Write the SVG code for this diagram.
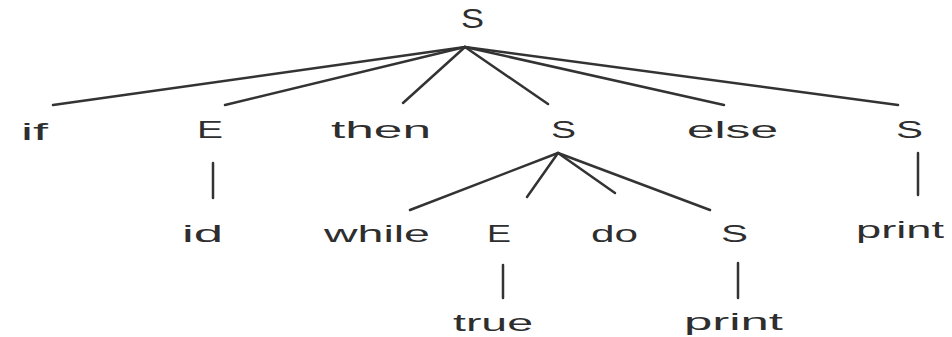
<svg xmlns="http://www.w3.org/2000/svg" width="952" height="337" viewBox="0 0 952 337">
<style>
.lbl{font-family:"Liberation Sans",Arial,sans-serif;font-size:24px;fill:#2e2e2e;}
.root{font-size:27px;}
.edge{stroke:#333;stroke-width:2.5;fill:none;stroke-linecap:round;}
</style>
<rect width="952" height="337" fill="#ffffff"/>
<g id="connectors">
<line class="edge" x1="465" y1="47" x2="53" y2="105"/>
<line class="edge" x1="465" y1="47" x2="225" y2="105"/>
<line class="edge" x1="465" y1="47" x2="403" y2="103"/>
<line class="edge" x1="465" y1="47" x2="548" y2="104"/>
<line class="edge" x1="465" y1="47" x2="724" y2="105"/>
<line class="edge" x1="465" y1="47" x2="898" y2="105"/>
<line class="edge" x1="213" y1="163" x2="213" y2="198"/>
<line class="edge" x1="918" y1="153" x2="918" y2="195"/>
<line class="edge" x1="558" y1="153" x2="410" y2="210"/>
<line class="edge" x1="558" y1="153" x2="527" y2="197"/>
<line class="edge" x1="558" y1="153" x2="615" y2="193"/>
<line class="edge" x1="558" y1="153" x2="710" y2="210"/>
<line class="edge" x1="503" y1="265" x2="503" y2="298"/>
<line class="edge" x1="738" y1="263" x2="738" y2="298"/>
</g>
<g id="n-root"><text class="lbl root" x="461" y="28" textLength="23" lengthAdjust="spacingAndGlyphs">S</text></g>
<g id="n-if"><text class="lbl" x="21" y="140" textLength="27" lengthAdjust="spacingAndGlyphs">if</text></g>
<g id="n-E1"><text class="lbl" x="197" y="138" textLength="26" lengthAdjust="spacingAndGlyphs">E</text></g>
<g id="n-then"><text class="lbl" x="331" y="138" textLength="100" lengthAdjust="spacingAndGlyphs">then</text></g>
<g id="n-S1"><text class="lbl" x="551" y="138" textLength="25" lengthAdjust="spacingAndGlyphs">S</text></g>
<g id="n-else"><text class="lbl" x="687" y="138" textLength="91" lengthAdjust="spacingAndGlyphs">else</text></g>
<g id="n-S2"><text class="lbl" x="896" y="138" textLength="27" lengthAdjust="spacingAndGlyphs">S</text></g>
<g id="n-id"><text class="lbl" x="182" y="242" textLength="41" lengthAdjust="spacingAndGlyphs">id</text></g>
<g id="n-while"><text class="lbl" x="324" y="242" textLength="106" lengthAdjust="spacingAndGlyphs">while</text></g>
<g id="n-E2"><text class="lbl" x="487" y="242" textLength="24" lengthAdjust="spacingAndGlyphs">E</text></g>
<g id="n-do"><text class="lbl" x="591" y="242" textLength="47" lengthAdjust="spacingAndGlyphs">do</text></g>
<g id="n-S3"><text class="lbl" x="721" y="242" textLength="27" lengthAdjust="spacingAndGlyphs">S</text></g>
<g id="n-print1"><text class="lbl" x="856" y="238" textLength="88" lengthAdjust="spacingAndGlyphs">print</text></g>
<g id="n-true"><text class="lbl" x="453" y="331" textLength="80" lengthAdjust="spacingAndGlyphs">true</text></g>
<g id="n-print2"><text class="lbl" x="684" y="330" textLength="99" lengthAdjust="spacingAndGlyphs">print</text></g>
</svg>
